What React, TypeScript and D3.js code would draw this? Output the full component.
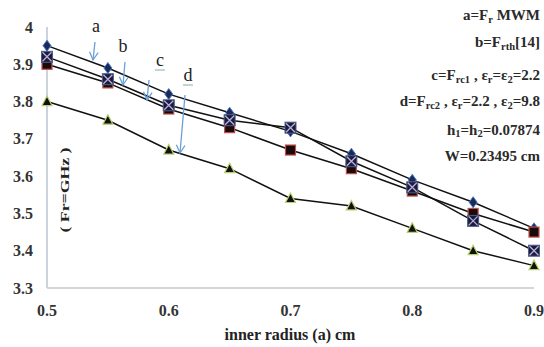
import React from "react";
import * as d3 from "d3";

const radius = [0.5, 0.55, 0.6, 0.65, 0.7, 0.75, 0.8, 0.85, 0.9];
const seriesA = [3.95, 3.89, 3.82, 3.77, 3.72, 3.66, 3.59, 3.53, 3.46];
const seriesB = [3.92, 3.86, 3.79, 3.75, 3.73, 3.64, 3.57, 3.48, 3.40];
const seriesC = [3.90, 3.85, 3.78, 3.73, 3.67, 3.62, 3.56, 3.50, 3.45];
const seriesD = [3.80, 3.75, 3.67, 3.62, 3.54, 3.52, 3.46, 3.40, 3.36];
const yTicks = [3.3, 3.4, 3.5, 3.6, 3.7, 3.8, 3.9, 4];
const xTicks = [0.5, 0.6, 0.7, 0.8, 0.9];

const FONT = "'Liberation Serif', 'Times New Roman', serif";

export default function App() {
  const W = 544, H = 347;
  const x = d3.scaleLinear().domain([0.5, 0.9]).range([47, 534]);
  const y = d3.scaleLinear().domain([3.3, 4]).range([288, 27]);
  const line = d3.line<number>().x((_, i) => x(radius[i])).y((v) => y(v));

  const diamond = (cx: number, cy: number, k: number) => (
    <path key={"dm" + k} d={`M${cx},${cy - 5.5}L${cx + 4},${cy}L${cx},${cy + 5.5}L${cx - 4},${cy}Z`} fill="#1b2a5a" stroke="#4a78c0" strokeWidth={1} />
  );
  const square = (cx: number, cy: number, k: number) => (
    <rect key={"sq" + k} x={cx - 5} y={cy - 5} width={10} height={10} fill="#1a0a0a" stroke="#c0504d" strokeWidth={1.2} />
  );
  const xsquare = (cx: number, cy: number, k: number) => (
    <g key={"xs" + k}>
      <rect x={cx - 5.5} y={cy - 5.5} width={11} height={11} fill="#1c1c3a" stroke="#4f5f8a" strokeWidth={1} />
      <path d={`M${cx - 4.5},${cy - 4.5}L${cx + 4.5},${cy + 4.5}M${cx + 4.5},${cy - 4.5}L${cx - 4.5},${cy + 4.5}`} stroke="#b8b0e0" strokeWidth={1.3} />
    </g>
  );
  const tri = (cx: number, cy: number, k: number) => (
    <path key={"tr" + k} d={`M${cx},${cy - 5.5}L${cx + 5},${cy + 4}L${cx - 5},${cy + 4}Z`} fill="#111" stroke="#b8d070" strokeWidth={1.2} />
  );

  const arrows = [
    { lbl: "a", lx: 96, ly: 32, x1: 95, y1: 42, x2: 93, y2: 60, ul: false },
    { lbl: "b", lx: 123, ly: 52, x1: 125, y1: 62, x2: 123, y2: 85, ul: false },
    { lbl: "c", lx: 160, ly: 66, x1: 149, y1: 80, x2: 147, y2: 100, ul: true },
    { lbl: "d", lx: 188, ly: 81, x1: 185, y1: 95, x2: 180, y2: 153, ul: true },
  ];
  const arrowColor = "#6a9fd8";

  return (
    <svg width={W} height={H} style={{ position: "absolute", left: 0, top: 0, background: "#fff" }}>
      <rect width={W} height={H} fill="#fff" />
      {/* axes */}
      <line x1={47} y1={27} x2={47} y2={288} stroke="#aab4c8" strokeWidth={1.2} />
      <line x1={47} y1={288} x2={534} y2={288} stroke="#c8c8c8" strokeWidth={1.5} />
      {yTicks.map((t) => (
        <text key={"y" + t} x={33} y={y(t) + 5.5} textAnchor="end" fontFamily={FONT} fontWeight="bold" fontSize={16} fill="#333">
          {t === 4 ? "4" : t.toFixed(1)}
        </text>
      ))}
      {xTicks.map((t) => (
        <text key={"x" + t} x={x(t)} y={316} textAnchor="middle" fontFamily={FONT} fontWeight="bold" fontSize={16} fill="#333">
          {t.toFixed(1)}
        </text>
      ))}
      <text x={290} y={340} textAnchor="middle" fontFamily={FONT} fontWeight="bold" fontSize={16} fill="#222">
        inner radius (a) cm
      </text>
      <text transform="translate(69,190) rotate(-90)" textAnchor="middle" fontFamily={FONT} fontWeight="bold" fontSize={12} fill="#222" textLength={85} lengthAdjust="spacingAndGlyphs">
        ( Fr=GHz )
      </text>
      {/* lines */}
      {[seriesA, seriesB, seriesC, seriesD].map((s, i) => (
        <path key={"l" + i} d={line(s) || ""} fill="none" stroke="#111" strokeWidth={1.5} />
      ))}
      {seriesD.map((v, i) => tri(x(radius[i]), y(v), i))}
      {seriesA.map((v, i) => diamond(x(radius[i]), y(v), i))}
      {seriesC.map((v, i) => square(x(radius[i]), y(v), i))}
      {seriesB.map((v, i) => xsquare(x(radius[i]), y(v), i))}
      {/* arrows */}
      {arrows.map((a) => {
        const ang = Math.atan2(a.y2 - a.y1, a.x2 - a.x1);
        const hl = 9, hw = 0.5;
        const p1 = [a.x2 - hl * Math.cos(ang - hw), a.y2 - hl * Math.sin(ang - hw)];
        const p2 = [a.x2 - hl * Math.cos(ang + hw), a.y2 - hl * Math.sin(ang + hw)];
        return (
          <g key={"ar" + a.lbl}>
            <text x={a.lx} y={a.ly} textAnchor="middle" fontFamily={FONT} fontSize={18} fill="#222">{a.lbl}</text>
            {a.ul && <line x1={a.lx - 5} y1={a.ly + 4} x2={a.lx + 5} y2={a.ly + 4} stroke="#8aa" strokeWidth={1} />}
            <line x1={a.x1} y1={a.y1} x2={a.x2} y2={a.y2} stroke={arrowColor} strokeWidth={1.3} />
            <path d={`M${p1[0]},${p1[1]}L${a.x2},${a.y2}L${p2[0]},${p2[1]}`} fill="none" stroke={arrowColor} strokeWidth={1.3} />
          </g>
        );
      })}
      {/* annotation text */}
      <g fontFamily={FONT} fontWeight="bold" fontSize={15} fill="#2a2a2a" textAnchor="end">
        <text x={540} y={20}>a=F<tspan fontSize={10.5} dy={3}>r</tspan><tspan dy={-3}> MWM</tspan></text>
        <text x={540} y={47}>b=F<tspan fontSize={10.5} dy={3}>rth</tspan><tspan dy={-3}>[14]</tspan></text>
        <text x={540} y={80}>c=F<tspan fontSize={10.5} dy={3}>rc1</tspan><tspan dy={-3}> , ε</tspan><tspan fontSize={10.5} dy={3}>r</tspan><tspan dy={-3}>=ε</tspan><tspan fontSize={10.5} dy={3}>2</tspan><tspan dy={-3}>=2.2</tspan></text>
        <text x={540} y={106}>d=F<tspan fontSize={10.5} dy={3}>rc2</tspan><tspan dy={-3}> , ε</tspan><tspan fontSize={10.5} dy={3}>r</tspan><tspan dy={-3}>=2.2 , ε</tspan><tspan fontSize={10.5} dy={3}>2</tspan><tspan dy={-3}>=9.8</tspan></text>
        <text x={540} y={135}>h<tspan fontSize={10.5} dy={2}>1</tspan><tspan dy={-2}>=h</tspan><tspan fontSize={10.5} dy={2}>2</tspan><tspan dy={-2}>=0.07874</tspan></text>
        <text x={540} y={161}>W=0.23495 cm</text>
      </g>
    </svg>
  );
}
